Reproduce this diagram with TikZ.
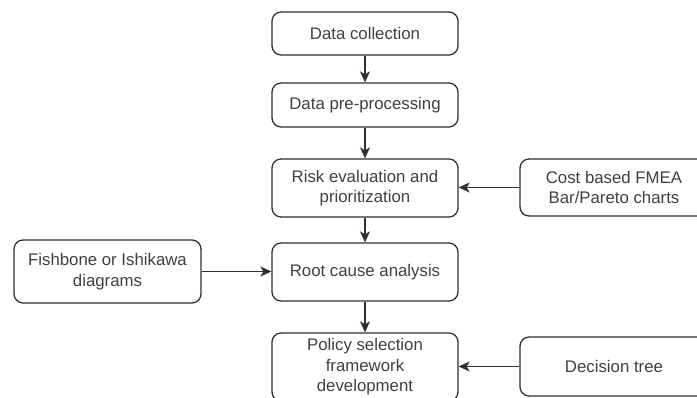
\documentclass[tikz,border=0pt]{standalone}
\usepackage{fontspec}
\setmainfont{Liberation Sans}
\usetikzlibrary{arrows.meta}
\definecolor{edge}{HTML}{303030}
\definecolor{ink}{HTML}{404040}
\tikzset{
  stepbox/.style={draw=edge, line width=1.3pt, rounded corners=9pt, fill=white,
    minimum width=186pt, align=center, text=ink, inner sep=2pt,
    font=\fontsize{16.8}{20.5}\selectfont},
  flow/.style={draw=edge, line width=1.3pt, -{Stealth[length=11pt,width=10pt,inset=3pt]}}
}
\begin{document}
\begin{tikzpicture}[x=1pt,y=-1pt]
\useasboundingbox (0,0) rectangle (697,398);
\clip (0,0) rectangle (697,398);
% main chain
\node[stepbox, minimum height=43pt] (collect) at (365,33.5) {Data collection};
\node[stepbox, minimum height=44pt] (prep) at (365,105) {Data pre-processing};
\node[stepbox, minimum height=58pt] (risk) at (365,188) {Risk evaluation and\\prioritization};
\node[stepbox, minimum height=58pt] (root) at (365,272) {Root cause analysis};
\node[stepbox, minimum height=68pt] (policy) at (365,367) {Policy selection\\framework\\development};
% side inputs
\node[stepbox, minimum height=63pt, minimum width=187pt] (fish) at (107.5,271.5) {Fishbone or Ishikawa\\diagrams};
\node[stepbox, minimum height=57pt, minimum width=188pt] (fmea) at (614,187.5) {Cost based FMEA\\Bar/Pareto charts};
\node[stepbox, minimum height=59pt, minimum width=188pt] (tree) at (614,366.5) {Decision tree};
% connectors
\draw[flow] (collect) -- (prep);
\draw[flow] (prep) -- (risk);
\draw[flow] (risk) -- (root);
\draw[flow] (root) -- (policy);
\draw[flow] (fish.east) -- (root.west |- fish.east);
\draw[flow] (fmea.west) -- (risk.east |- fmea.west);
\draw[flow] (tree.west) -- (policy.east |- tree.west);
\end{tikzpicture}
\end{document}
